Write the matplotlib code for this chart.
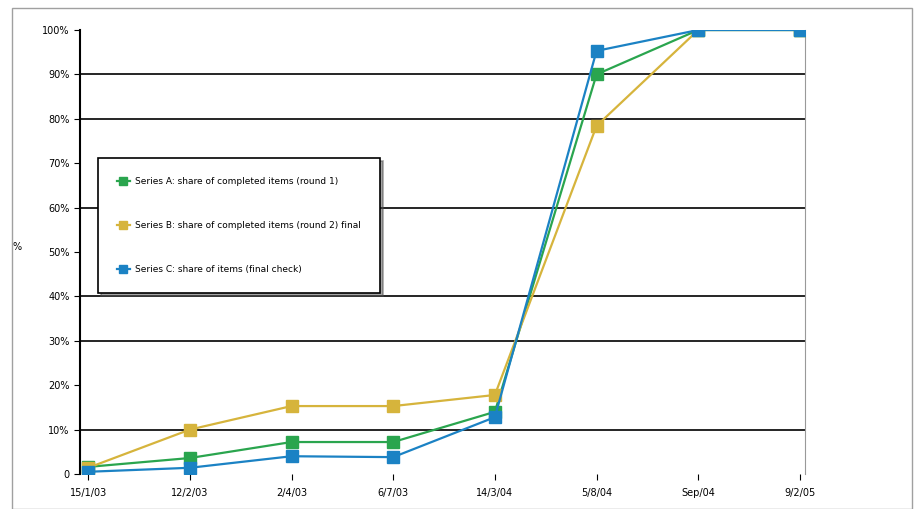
import matplotlib.pyplot as plt
from matplotlib.patches import Rectangle

# category labels (dates, hard to read in the reference)
dates = ['15/1/03', '12/2/03', '2/4/03', '6/7/03', '14/3/04', '5/8/04', 'Sep/04', '9/2/05']

# cumulative share, percent
green_vals = [1.6, 3.6, 7.2, 7.2, 14.0, 90.0, 100.0, 100.0]
yellow_vals = [1.4, 10.0, 15.3, 15.3, 17.8, 78.4, 100.0, 100.0]
blue_vals = [0.5, 1.4, 4.0, 3.8, 12.8, 95.3, 100.0, 100.0]

names = ['Series A: share of completed items (round 1)',
         'Series B: share of completed items (round 2) final',
         'Series C: share of items (final check)']

yticks = [0, 10, 20, 30, 40, 50, 60, 70, 80, 90, 100]
grid_levels = [10, 30, 40, 60, 80, 90]

fig = plt.figure(figsize=(9.2, 5.09), dpi=100)
fig.patches.append(Rectangle((12 / 920, 0), 900 / 920, 501 / 509, transform=fig.transFigure,
                             fill=False, edgecolor='#a0a0a0', linewidth=1))
ax = fig.add_axes([80 / 920, 35 / 509, 725 / 920, 444 / 509])

x = list(range(len(dates)))
for lv in grid_levels:
    ax.axhline(lv, color='black', linewidth=1.2, zorder=1)

ax.plot(x, green_vals, color='#2aa54e', marker='s', markersize=9, linewidth=1.6, label=names[0], zorder=3)
ax.plot(x, yellow_vals, color='#d6b43c', marker='s', markersize=9, linewidth=1.6, label=names[1], zorder=3)
ax.plot(x, blue_vals, color='#1b82c4', marker='s', markersize=9, linewidth=1.6, label=names[2], zorder=4)

ax.set_xlim(-0.08, 7.05)
ax.set_ylim(0, 100)
ax.set_xticks(x)
ax.set_xticklabels(dates, fontsize=7)
ax.set_yticks(yticks)
ax.set_yticklabels(['0'] + [f'{v}%' for v in yticks[1:]], fontsize=7)
ax.tick_params(axis='x', length=4, pad=6)
ax.tick_params(axis='y', length=4)

ax.spines['top'].set_visible(False)
ax.spines['bottom'].set_visible(False)
ax.spines['left'].set_color('black')
ax.spines['left'].set_linewidth(1.5)
ax.spines['right'].set_color('#999999')
ax.set_ylabel('%', fontsize=7, rotation=0, labelpad=18)

leg = ax.legend(loc='upper left', bbox_to_anchor=(0.025, 0.712), fontsize=6.5,
                frameon=True, fancybox=False, shadow=True, handlelength=1.4,
                markerscale=0.7, labelspacing=3.9, borderpad=2.1, borderaxespad=0,
                handletextpad=0.6)
leg.get_frame().set_edgecolor('black')
leg.get_frame().set_linewidth(1.2)

fig.savefig('out.png', dpi=100)
